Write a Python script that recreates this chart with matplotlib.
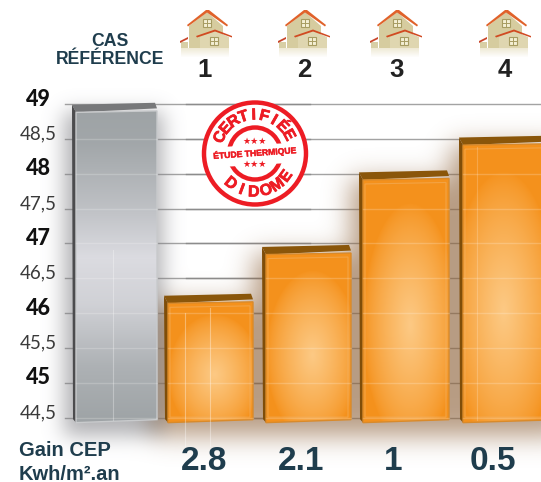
import numpy as np
import matplotlib
matplotlib.use("Agg")
import matplotlib.pyplot as plt
import matplotlib.patheffects as pe
from matplotlib.patches import Polygon, Circle, Rectangle

# values
tick_values = [49, 48.5, 48, 47.5, 47, 46.5, 46, 45.5, 45, 44.5]
tick_labels = ["49", "48,5", "48", "47,5", "47", "46,5", "46", "45,5", "45", "44,5"]
bar_values = [48.88, 46.14, 46.84, 47.91, 48.41]
case_labels = ["1", "2", "3", "4"]
gain_labels = ["2.8", "2.1", "1", "0.5"]

BASE = 44.45
PX_PER_UNIT = 69.7
bar_left = [76, 168, 266, 363, 463]
bar_right = [157, 253, 351, 449, 560]
case_x = [205, 304, 397, 505]
house_x = [180, 278, 370, 479]
gain_x = [204, 301, 393, 493]
DARK = "#1f3d4d"

fig = plt.figure(figsize=(5.41, 4.82), dpi=100)
ax = fig.add_axes([0, 0, 1, 1])
ylim = (49 - (482 - 104) / PX_PER_UNIT, 49 + 104 / PX_PER_UNIT)
ax.axis("off")


def blur(a, s):
    k = np.exp(-np.arange(-3 * s, 3 * s + 1) ** 2 / (2.0 * s * s))
    k = k / k.sum()
    a = np.apply_along_axis(lambda r: np.convolve(r, k, mode="same"), 0, a)
    a = np.apply_along_axis(lambda r: np.convolve(r, k, mode="same"), 1, a)
    return a


def ypx(v):
    return 104 + (49 - v) * PX_PER_UNIT


# grid
for v in tick_values:
    ax.plot([65, 541], [v, v], color="#a3a3a3", lw=1.0, zorder=1)
    ax.plot([186, 310], [v, v], color="#8c8c8c", lw=1.0, zorder=1)

# soft shadow behind the bars
pad = 60
W, H = 541 + 2 * pad, 482 + 2 * pad
grey_m = np.zeros((H, W))
orange_m = np.zeros((H, W))
for i, val in enumerate(bar_values):
    m = grey_m if i == 0 else orange_m
    m[int(ypx(val)) + pad:436 + pad, bar_left[i] - 12 + pad:min(bar_right[i] + 6 + pad, W)] = 1
grey_m = blur(grey_m, 10)[pad:-pad, pad:-pad]
orange_m = blur(orange_m, 13)[pad:-pad, pad:-pad]
rgba = np.zeros((482, 541, 4))
tot = grey_m * 0.6 + orange_m * 0.62
frac = orange_m * 0.62 / np.maximum(tot, 1e-6)
for c, (g, o) in enumerate(zip((0.50, 0.50, 0.52), (0.55, 0.38, 0.22))):
    rgba[..., c] = g * (1 - frac) + o * frac
rgba[..., 3] = np.clip(tot, 0, 1)
ax.imshow(rgba, extent=(0, 541, ylim[0], ylim[1]), origin="upper", aspect="auto", zorder=2, interpolation="bilinear")

# bars
yy, xx = np.mgrid[0:1:160j, 0:1:120j]
for i, val in enumerate(bar_values):
    l, r = bar_left[i], bar_right[i]
    skew = 1.5 / PX_PER_UNIT
    depth = 8 / PX_PER_UNIT
    inset = 4
    front = Polygon([(l, val), (r, val + skew), (r, BASE + skew), (l, BASE - skew)], closed=True,
                    fc="none", ec="none", zorder=4)
    ax.add_patch(front)
    ext = (l, r, BASE - skew, val + skew)
    if i == 0:
        t = np.interp(yy[:, 0], [0, 0.1, 0.3, 0.47, 0.62, 0.82, 1], [0.0, 0.06, 0.5, 1.0, 0.82, 0.25, 0.0])
        t = t[:, None] * np.ones_like(xx)
        a, b = np.array([0.62, 0.64, 0.65]), np.array([0.86, 0.86, 0.88])
        side, top, rim, inner = "#4c4c4e", "#77787a", "#c8cacc", "#c8cacc"
    else:
        cx = 0.55 if i < 4 else 0.42
        d = np.sqrt(((xx - cx) / 0.55) ** 2 + ((yy - 0.6) / 0.5) ** 2)
        t = np.clip(1 - d, 0, 1) ** 0.75
        a, b = np.array([0.96, 0.57, 0.11]), np.array([0.99, 0.79, 0.52])
        side, top, rim, inner = "#7f4d08", "#8a560a", "#d98a2a", "#f2b56c"
    img = a + (b - a) * t[..., None]
    im = ax.imshow(img, extent=ext, origin="upper", aspect="auto", zorder=4, interpolation="bilinear")
    im.set_clip_path(front)
    # top and left faces
    ax.add_patch(Polygon([(l - 4, val + depth * 0.95), (r - 2, val + depth * 1.2), (r, val + skew + 2.5 / PX_PER_UNIT), (l, val)],
                         closed=True, fc=top, ec="none", zorder=5))
    ax.add_patch(Polygon([(l - 4, val + depth * 0.95), (l, val), (l, BASE - skew), (l - 3, BASE + 2 / PX_PER_UNIT)],
                         closed=True, fc=side, ec="none", zorder=5))
    ax.add_patch(Polygon(front.get_xy(), closed=True, fc="none", ec=rim, lw=1.0, zorder=6))
    if i > 0:
        dv = inset / PX_PER_UNIT
        ax.add_patch(Polygon([(l + 2, val - dv), (r - 3, val - dv + skew), (r - 3, BASE + dv), (l + 2, BASE + dv)],
                             closed=True, fc="none", ec=inner, lw=0.8, alpha=0.5, zorder=6))
    # faint grid showing through the bar
    for v in tick_values:
        if BASE < v < val:
            ax.plot([l, r], [v, v], color="white", alpha=0.2, lw=1.0, zorder=6)

# faint vertical lines over the bars
ax.plot([113, 113], [44.46, 46.9], color="white", alpha=0.3, lw=0.8, zorder=6)
ax.plot([185, 185], [44.1, 46.0], color="white", alpha=0.35, lw=0.8, zorder=6)
ax.plot([210, 210], [44.1, 46.08], color="white", alpha=0.35, lw=0.8, zorder=6)
ax.plot([477, 477], [44.46, 48.38], color="white", alpha=0.2, lw=0.8, zorder=6)

ax.set_xlim(0, 541)
ax.set_ylim(*ylim)

# tick labels
for v, lab in zip(tick_values, tick_labels):
    major = float(v).is_integer()
    ax.text(38, v + 5 / PX_PER_UNIT, lab, ha="center", va="center", family="Lato", zorder=8,
            fontsize=15.5 if major else 13.5, weight="black" if major else "normal",
            color="#111111" if major else "#3a3a3a")

# overlay in picture pixels for the header and the stamp
ov = fig.add_axes([0, 0, 1, 1], facecolor="none")
ov.set_xlim(0, 541)
ov.set_ylim(482, 0)
ov.axis("off")


def house(x0):
    def P(pts, c, z=9):
        ov.add_patch(Polygon([(x0 + a, b) for a, b in pts], closed=True, fc=c, ec="none", zorder=z))

    P([(1, 42), (8, 42), (8, 48), (1, 48)], "#d8cfa6")
    P([(0, 41), (8, 37), (8, 39), (0, 43)], "#c9452a")
    P([(9, 26), (27, 12), (43, 26), (43, 48), (9, 48)], "#d6cc9f")
    P([(7, 25), (26, 10), (29, 10), (48, 25), (47, 26.5), (27, 12.5), (8, 26.5)], "#e0622a")
    P([(20, 48), (20, 37), (35, 31), (49, 37), (49, 48)], "#dfd6b0")
    P([(16, 36), (35, 29.5), (52, 36), (52, 37.5), (35, 31.5), (17, 37.5)], "#d14a22")
    for wx, wy in ((27, 23), (34, 41)):
        ov.add_patch(Rectangle((x0 + wx - 4, wy - 4), 8, 8, fc="#f4efd4", ec="#a79c62", lw=0.8, zorder=10))
        ov.plot([x0 + wx, x0 + wx], [wy - 4, wy + 4], color="#a79c62", lw=0.7, zorder=11)
        ov.plot([x0 + wx - 4, x0 + wx + 4], [wy, wy], color="#a79c62", lw=0.7, zorder=11)
    ref = np.ones((10, 2, 4))
    ref[..., :3] = [0.9, 0.87, 0.74]
    ref[..., 3] = np.linspace(0.6, 0, 10)[:, None]
    ov.imshow(ref, extent=(x0 + 1, x0 + 49, 58, 48), aspect="auto", zorder=9)


for hx in house_x:
    house(hx)
ov.set_xlim(0, 541)
ov.set_ylim(482, 0)

ov.text(110, 41, "CAS", ha="center", va="center", family="Liberation Sans", weight="bold", fontsize=12.7, color=DARK)
ov.text(110, 60, "RÉFÉRENCE", ha="center", va="center", family="Liberation Sans", weight="bold", fontsize=12.7, color=DARK)
for x, lab in zip(case_x, case_labels):
    ov.text(x, 70, lab, ha="center", va="center", family="Liberation Sans", weight="bold", fontsize=18.5, color="#222222")
for x, lab in zip(gain_x, gain_labels):
    ov.text(x, 462, lab, ha="center", va="center", family="Liberation Sans", weight="bold", fontsize=24, color=DARK)
ov.text(19, 451, "Gain CEP", ha="left", va="center", family="Liberation Sans", weight="bold", fontsize=14.5, color=DARK)
ov.text(19, 474, "Kwh/m².an", ha="left", va="center", family="Liberation Sans", weight="bold", fontsize=14.5, color=DARK)

# stamp
RED = "#ed1c24"
cx, cy = 255, 153.5
ov.add_patch(Circle((cx, cy), 51, fc="white", ec=RED, lw=3.2, zorder=12))
ov.add_patch(Circle((cx, cy), 26, fc="none", ec=RED, lw=3.2, zorder=13))
heavy = [pe.withStroke(linewidth=0.5, foreground=RED)]


def arc_text(s, r, start, step, top=True):
    for k, ch in enumerate(s):
        ang = start + k * step
        a = np.radians(ang)
        x, y = cx + r * np.sin(a), cy - r * np.cos(a)
        rot = -ang if top else 180 - ang
        ov.text(x, y, ch, ha="center", va="center", rotation=rot, rotation_mode="anchor", family="Liberation Sans",
                weight="bold", fontsize=11.5, color=RED, zorder=14, path_effects=heavy)


arc_text("CERTIFIÉE", 38.5, -65, 15.8, True)
arc_text("DIDOME", 38.5, 219, -18.6, False)
ov.add_patch(Polygon([(222, 147), (288, 143), (288, 163), (222, 167)], closed=True, fc="white", ec="none", zorder=13))
ov.text(255, 153, "ÉTUDE THERMIQUE", ha="center", va="center", rotation=4, family="Liberation Sans", weight="bold",
        fontsize=6.2, color=RED, zorder=14, path_effects=[pe.withStroke(linewidth=0.3, foreground=RED)])
ov.text(255, 141, "★★★", ha="center", va="center", family="DejaVu Sans", fontsize=6.5, color=RED, zorder=14)
ov.text(255, 164, "★★★", ha="center", va="center", family="DejaVu Sans", fontsize=6.5, color=RED, zorder=14)

fig.savefig("out.png", dpi=100)
